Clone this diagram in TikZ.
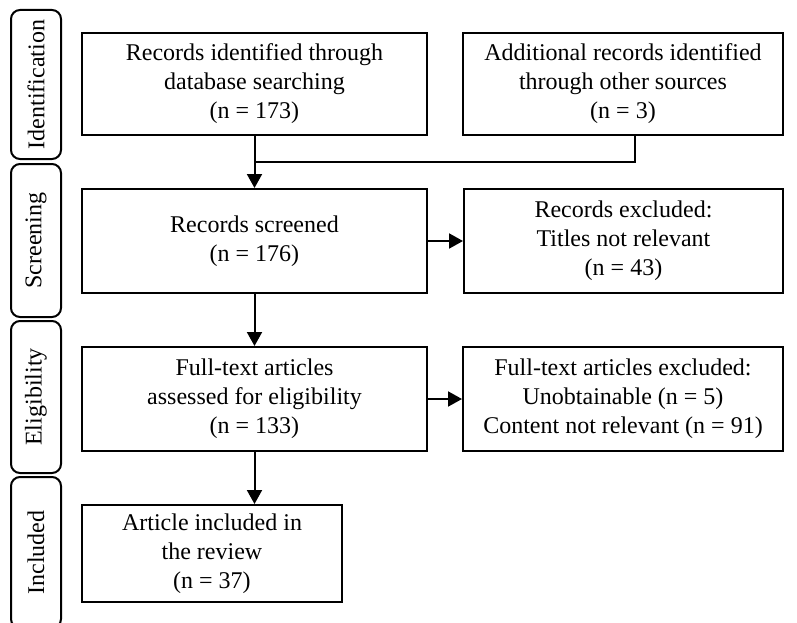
\documentclass[tikz,border=0pt]{standalone}
\usepackage{fontspec}
\setmainfont{Liberation Serif}
\usetikzlibrary{arrows.meta}

\tikzset{
  box/.style={draw, line width=2pt, align=center, inner sep=2pt,
    font=\fontsize{24}{29}\selectfont},
  phase/.style={draw, line width=2pt, rounded corners=9pt, rotate=90,
    minimum height=50pt, inner sep=0pt, font=\fontsize{24}{29}\selectfont},
  link/.style={line width=2pt},
  arr/.style={line width=2pt, -{Triangle[length=14pt,width=15pt]}}
}

\begin{document}
\begin{tikzpicture}[x=1pt,y=-1pt]
\useasboundingbox (0,0) rectangle (797,623);

% phases on the left
\node[phase, minimum width=149pt] (pid) at (36,84.5) {Identification};
\node[phase, minimum width=153pt] (pscr) at (36,240.5) {Screening};
\node[phase, minimum width=152pt] (pelig) at (36,397) {Eligibility};
\node[phase, minimum width=151pt] (pinc) at (36,552.5) {Included};

% boxes
\node[box, minimum width=345pt, minimum height=102pt] (id1) at (254.5,84)
  {Records identified through\\database searching\\(n = 173)};
\node[box, minimum width=320pt, minimum height=102pt] (id2) at (623,84)
  {Additional records identified\\through other sources\\(n = 3)};
\node[box, minimum width=345pt, minimum height=104pt] (scr) at (254.5,241)
  {Records screened\\(n = 176)};
\node[box, minimum width=319pt, minimum height=104pt] (exc1) at (623.5,241)
  {Records excluded:\\Titles not relevant\\(n = 43)};
\node[box, minimum width=345pt, minimum height=104pt] (elig) at (254.5,399)
  {Full-text articles\\assessed for eligibility\\(n = 133)};
\node[box, minimum width=320pt, minimum height=104pt] (exc2) at (623,399)
  {Full-text articles excluded:\\Unobtainable (n = 5)\\Content not relevant (n = 91)};
\node[box, minimum width=260pt, minimum height=97pt] (inc) at (212,553.5)
  {Article included in\\the review\\(n = 37)};

% connectors
\coordinate (mrg) at (254.5,162);
\draw[link] ([xshift=12pt]id2.south) |- (mrg);
\draw[arr] (id1.south) -- (scr.north);
\draw[arr] (scr.east) -- (exc1.west);
\draw[arr] (scr.south) -- (elig.north);
\draw[arr] (elig.east) -- (exc2.west);
\draw[arr] (elig.south) -- (elig.south |- inc.north);
\end{tikzpicture}
\end{document}
